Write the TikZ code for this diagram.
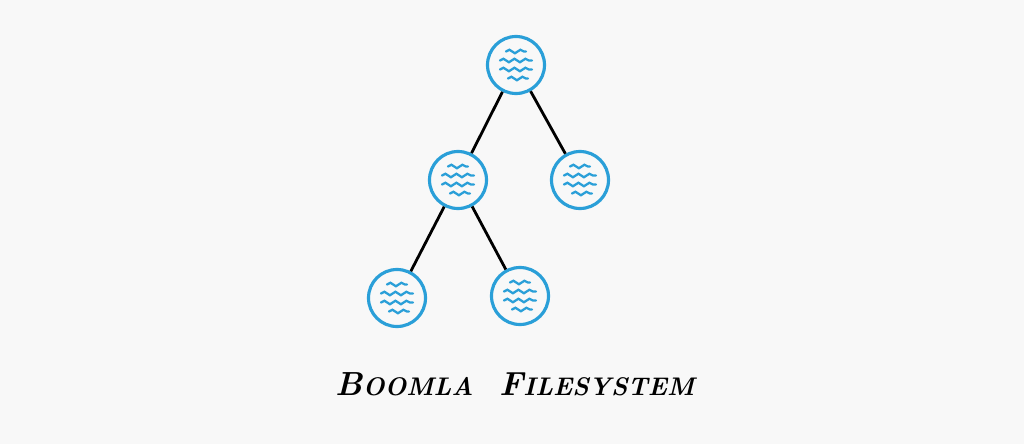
\documentclass[tikz,border=0pt]{standalone}
\usepackage{tikz}
\usetikzlibrary{arrows.meta, positioning, decorations.pathmorphing}
\definecolor{paper}{HTML}{F8F8F8}
\definecolor{fileblue}{HTML}{2A9FD8}
\newcommand{\filewaves}[1]{%
  \foreach \dx/\dy/\len in {-0.2/0.27/0.4, -0.32/0.09/0.64, -0.32/-0.09/0.64, -0.16/-0.27/0.4}
    \draw[wave] ([shift={(\dx,\dy)}]#1.center) -- ++(\len,0);
}
\begin{document}
\begin{tikzpicture}[
        f/.style={circle, draw=fileblue, line width=1.8pt, minimum size=11.4mm, inner sep=0pt},
        e/.style={line width=1.6pt, black},
        wave/.style={fileblue, line width=1.3pt, line cap=round,
          decorate, decoration={snake, amplitude=0.35mm, segment length=2.2mm}}
    ]
        \fill[paper] (0,0) rectangle (20.48,8.88);
        \useasboundingbox (0,0) rectangle (20.48,8.88);

        \node[f] (root) at (10.32,7.58) {};
        \node[f] (dir)  at (9.16,5.28)  {};
        \node[f] (doc)  at (11.6,5.28)  {};
        \node[f] (img)  at (7.94,2.92)  {};
        \node[f] (txt)  at (10.4,2.96)  {};

        \draw[e] (root) -- (dir);
        \draw[e] (root) -- (doc);
        \draw[e] (dir) -- (img);
        \draw[e] (dir) -- (txt);

        \filewaves{root}
        \filewaves{dir}
        \filewaves{doc}
        \filewaves{img}
        \filewaves{txt}

        \node[font=\fontsize{14.5}{17}\selectfont\bfseries\itshape] (title) at (10.3,1.2)
          {{\fontsize{19}{22}\selectfont B}OOMLA\quad{\fontsize{19}{22}\selectfont F}ILESYSTEM};
    \end{tikzpicture}
\end{document}
